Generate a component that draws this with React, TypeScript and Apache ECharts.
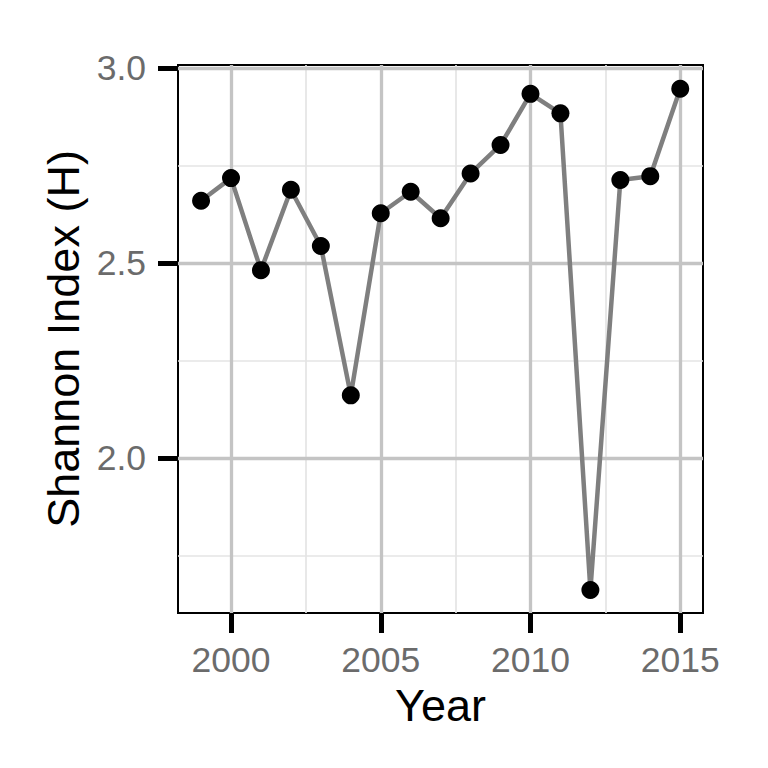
import React, { useEffect, useRef } from "react";
import * as echarts from "echarts";

const years = [1999, 2000, 2001, 2002, 2003, 2004, 2005, 2006, 2007, 2008, 2009, 2010, 2011, 2012, 2013, 2014, 2015];
const shannon = [2.66, 2.718, 2.482, 2.688, 2.544, 2.161, 2.628, 2.683, 2.615, 2.73, 2.803, 2.934, 2.884, 1.662, 2.713, 2.723, 2.947];

const xMajorTicks = [2000, 2005, 2010, 2015];
const xMinorTicks = [2002.5, 2007.5, 2012.5];
const yMajorTicks = [2.0, 2.5, 3.0];
const yMinorTicks = [1.75, 2.25, 2.75];

const FONT = '"Liberation Sans", Arial, Helvetica, sans-serif';

export default function App() {
  const ref = useRef<HTMLDivElement>(null);
  useEffect(() => {
    if (!ref.current) return;
    const chart = echarts.init(ref.current, undefined, { renderer: "svg" });
    const major = { color: "#c4c4c4", width: 3.3, type: "solid" as const };
    const minor = { color: "#e4e4e4", width: 1.7, type: "solid" as const };
    const gridLines = [
      ...xMinorTicks.map((v) => ({ xAxis: v, lineStyle: minor })),
      ...yMinorTicks.map((v) => ({ yAxis: v, lineStyle: minor })),
      ...xMajorTicks.map((v) => ({ xAxis: v, lineStyle: major })),
      ...yMajorTicks.map((v) => ({ yAxis: v, lineStyle: major })),
    ];
    chart.setOption({
      animation: false,
      backgroundColor: "#ffffff",
      textStyle: { fontFamily: FONT },
      grid: {
        left: 178,
        top: 65,
        width: 525,
        height: 548,
        show: true,
        borderColor: "#000000",
        borderWidth: 2,
        backgroundColor: "#ffffff",
      },
      xAxis: {
        type: "value",
        min: 1998.23,
        max: 2015.76,
        name: "Year",
        nameLocation: "middle",
        nameGap: 66,
        nameTextStyle: { fontSize: 45, color: "#000000", fontFamily: FONT },
        axisLine: { show: true, onZero: false, lineStyle: { color: "#000000", width: 2 } },
        axisTick: { show: true, length: 20, customValues: xMajorTicks, lineStyle: { color: "#000000", width: 5 } },
        axisLabel: {
          show: true,
          customValues: xMajorTicks,
          margin: 29,
          fontSize: 35.5,
          color: "#6b6b6b",
          fontFamily: FONT,
          formatter: (v: number) => String(Math.round(v)),
        },
        splitLine: { show: false },
      },
      yAxis: {
        type: "value",
        min: 1.603,
        max: 3.008,
        name: "Shannon Index (H)",
        nameLocation: "middle",
        nameGap: 92,
        nameRotate: 90,
        nameTextStyle: { fontSize: 45, color: "#000000", fontFamily: FONT },
        axisLine: { show: true, onZero: false, lineStyle: { color: "#000000", width: 2 } },
        axisTick: { show: true, length: 20, customValues: yMajorTicks, lineStyle: { color: "#000000", width: 5 } },
        axisLabel: {
          show: true,
          customValues: yMajorTicks,
          margin: 32,
          fontSize: 35.5,
          color: "#6b6b6b",
          fontFamily: FONT,
          formatter: (v: number) => v.toFixed(1),
        },
        splitLine: { show: false },
      },
      series: [
        {
          type: "line",
          data: [],
          z: 1,
          silent: true,
          markLine: {
            z: 1,
            silent: true,
            symbol: ["none", "none"],
            label: { show: false },
            emphasis: { disabled: true },
            data: gridLines,
          },
        },
        {
          type: "line",
          z: 3,
          data: years.map((y, i) => [y, shannon[i]]),
          symbol: "circle",
          symbolSize: 18,
          showAllSymbol: true,
          itemStyle: { color: "#000000" },
          lineStyle: { color: "#7f7f7f", width: 4.5 },
          emphasis: { disabled: true },
        },
      ],
    });
    return () => chart.dispose();
  }, []);
  return (
    <div
      ref={ref}
      style={{ position: "fixed", left: 0, top: 0, width: 768, height: 768, background: "#ffffff" }}
    />
  );
}
